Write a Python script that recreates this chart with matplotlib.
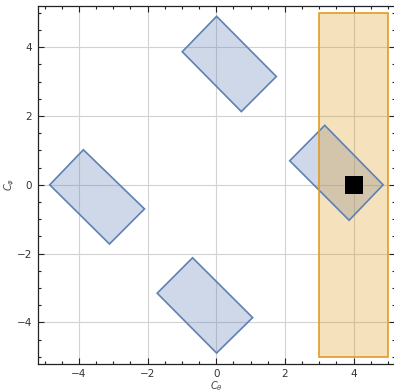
import matplotlib
matplotlib.use("Agg")
import matplotlib.pyplot as plt
from matplotlib.patches import Polygon, Rectangle
from matplotlib.ticker import MultipleLocator

# Rotated rectangles (vertices, x and y lists)
rect1_x = [-4.85, -3.87, -2.09, -3.11]
rect1_y = [0.00, 1.02, -0.70, -1.72]
rect2_x = [0.01, 1.75, 0.73, -0.99]
rect2_y = [4.90, 3.15, 2.13, 3.87]
rect3_x = [0.01, 1.06, -0.69, -1.72]
rect3_y = [-4.89, -3.86, -2.12, -3.15]
rect4_x = [4.86, 3.87, 2.14, 3.16]
rect4_y = [0.00, -1.03, 0.70, 1.73]
blue_rects = [(rect1_x, rect1_y), (rect2_x, rect2_y), (rect3_x, rect3_y), (rect4_x, rect4_y)]

# Orange region: x range and y range
region_x = [3.0, 5.0]
region_y = [-5.0, 5.0]

# Black point
point_x = [4.0]
point_y = [0.0]

x_ticks = [-4, -2, 0, 2, 4]
y_ticks = [-4, -2, 0, 2, 4]

blue = "#5E81B5"
orange = "#E19C24"

fig = plt.figure(figsize=(3.94, 3.92), dpi=100)
ax = fig.add_axes([37.7 / 394, 1 - 363.7 / 392, 357.1 / 394, 357.7 / 392])

ax.set_xlim(-5.2, 5.2)
ax.set_ylim(-5.2, 5.2)

for xs, ys in blue_rects:
    ax.add_patch(Polygon(list(zip(xs, ys)), closed=True, facecolor=blue, alpha=0.3,
                         edgecolor="none", zorder=2))
    ax.add_patch(Polygon(list(zip(xs, ys)), closed=True, facecolor="none",
                         edgecolor=blue, linewidth=1.2, zorder=3))

ax.add_patch(Rectangle((region_x[0], region_y[0]), region_x[1] - region_x[0],
                       region_y[1] - region_y[0], facecolor=orange, alpha=0.3,
                       edgecolor="none", zorder=2))
ax.add_patch(Rectangle((region_x[0], region_y[0]), region_x[1] - region_x[0],
                       region_y[1] - region_y[0], facecolor="none",
                       edgecolor=orange, linewidth=1.2, zorder=3))

ax.scatter(point_x, point_y, marker="s", s=185, color="black", linewidths=0, zorder=4)

ax.set_xticks(x_ticks)
ax.set_yticks(y_ticks)
ax.xaxis.set_minor_locator(MultipleLocator(0.5))
ax.yaxis.set_minor_locator(MultipleLocator(0.5))
ax.tick_params(which="both", direction="in", top=True, right=True, color="#222222",
               labelsize=7.5, labelcolor="#333333", width=0.8)
ax.tick_params(which="major", length=4.5, pad=4)
ax.tick_params(which="minor", length=2.5)
ax.grid(True, which="major", color="#d2d2d2", linewidth=0.8, zorder=0)
ax.set_axisbelow(True)

for s in ax.spines.values():
    s.set_color("#222222")
    s.set_linewidth(0.9)

ax.set_xlabel(r"$C_\theta$", fontsize=7, color="#444444", labelpad=0)
ax.set_ylabel(r"$C_\varphi$", fontsize=7, color="#444444", labelpad=0)
ax.xaxis.set_label_coords(0.5, -0.042)
ax.yaxis.set_label_coords(-0.058, 0.5)

fig.savefig("out.png", dpi=100)
